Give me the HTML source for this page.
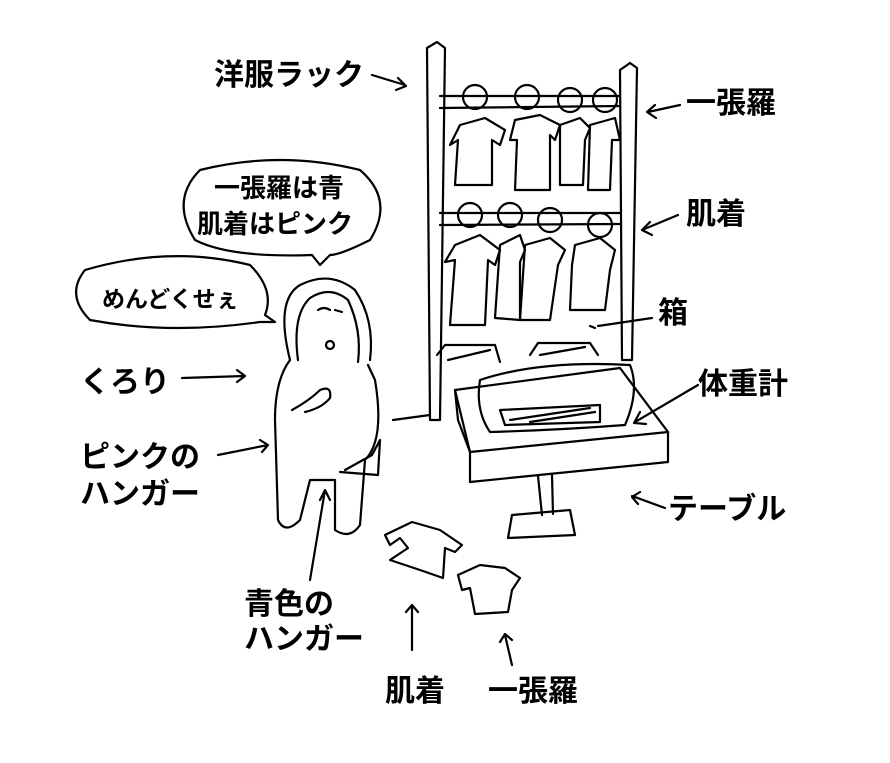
<!DOCTYPE html>
<html><head><meta charset="utf-8"><style>
html,body{margin:0;padding:0;background:#fff;}
svg{display:block}
text{font-family:"Liberation Sans","Noto Sans CJK JP",sans-serif;font-weight:bold;fill:#000;}
</style></head><body>
<svg width="890" height="763" viewBox="0 0 890 763" xmlns="http://www.w3.org/2000/svg">
<g fill="none" stroke="#000" stroke-width="2.2" stroke-linecap="round" stroke-linejoin="round">
<path d="M427 48 L437 42 L445 48 L440 420 L430 420 Z"/>
<path d="M620 70 L630 63 L637 68 L632 360 L622 360 Z"/>
<path d="M440 96 L620 96 M440 108 L620 106"/>
<path d="M440 213 L620 213 M440 225 L620 224"/>
<circle cx="475" cy="97" r="12"/><circle cx="527" cy="97" r="12"/><circle cx="570" cy="100" r="12"/><circle cx="605" cy="100" r="12"/>
<circle cx="470" cy="215" r="12"/><circle cx="510" cy="215" r="12"/><circle cx="550" cy="220" r="12"/><circle cx="600" cy="225" r="12"/>
<path d="M460 125 L485 118 L505 130 L500 145 L492 140 L492 185 L455 185 L458 140 L450 145 Z"/>
<path d="M515 120 L540 115 L560 125 L555 140 L550 135 L550 190 L515 190 L517 140 L510 140 Z"/>
<path d="M560 125 L580 118 L590 128 L585 140 L583 185 L560 185 Z"/>
<path d="M590 125 L615 118 L620 140 L612 140 L610 190 L588 190 Z"/>
<path d="M455 245 L480 235 L500 250 L495 265 L488 260 L485 325 L450 325 L455 260 L445 262 Z"/>
<path d="M500 245 L520 235 L525 250 L520 262 L520 320 L495 318 Z"/>
<path d="M525 245 L550 238 L565 250 L558 265 L550 320 L520 320 Z"/>
<path d="M575 245 L600 238 L615 250 L610 270 L605 310 L570 310 L572 265 Z"/>
<path d="M437 355 L445 345 L495 345 L500 362"/>
<path d="M530 355 L538 343 L590 343 L598 355"/>
<path d="M448 360 L490 350 M540 355 L585 347"/>
<path d="M455 390 L620 368 L668 432 L470 452 Z"/>
<path d="M470 452 L470 482 L668 462 L668 432"/>
<path d="M455 390 L458 420 L470 452"/>
<path d="M480 380 Q540 360 630 365 Q640 390 625 425 Q560 430 490 432 Q475 410 480 380 Z"/>
<path d="M500 410 L600 405 L600 422 L505 425 Z"/>
<path d="M510 420 L590 408 M530 422 L595 412"/>
<path d="M538 476 L542 515 M552 475 L553 514"/>
<path d="M512 515 L570 510 L575 535 L508 538 Z"/>
<path d="M393 420 L430 415"/>
<path d="M290 360 Q275 300 300 285 Q330 270 355 290 Q375 320 370 360"/>
<path d="M298 360 Q292 315 310 298 Q330 285 348 300 Q362 330 358 362"/>
<path d="M290 360 Q275 380 275 420 L278 520 Q285 535 300 520 L310 480 L335 480 L335 530 Q350 540 360 525 L365 460 Q385 440 375 380 L368 365"/>
<path d="M318 310 Q324 306 330 310 M335 310 L342 312"/>
<circle cx="330" cy="345" r="4"/>
<path d="M292 410 Q310 400 320 390 Q332 385 330 398 Q322 408 305 412"/>
<path d="M345 470 L372 455 L380 440 L378 475 L340 472"/>
<path d="M385 535 L412 522 L440 530 L462 545 L455 552 L445 548 L443 578 L420 570 L390 560 L408 548 L400 538 L390 545 Z"/>
<path d="M458 575 L480 565 L505 568 L520 578 L512 590 L508 612 L475 614 L470 588 L462 590 Z"/>
<path d="M200 170 Q280 150 360 170 Q395 200 370 240 Q340 255 330 255 L320 265 L312 255 Q230 258 195 240 Q170 200 200 170 Z"/>
<path d="M85 270 Q170 245 250 265 Q275 290 265 315 L275 322 L260 322 Q170 335 90 320 Q65 295 85 270 Z"/>
<path d="M372 75 L405 85 M398 78 L406 86 L396 90"/>
<path d="M680 105 L648 112 M655 105 L647 112 L656 118"/>
<path d="M678 215 L642 230 M650 222 L642 230 L652 235"/>
<path d="M652 318 L598 326 M590 326 L595 328"/>
<path d="M698 385 L635 422 M640 412 L634 423 L646 424"/>
<path d="M182 378 L245 376 M237 370 L245 376 L237 382"/>
<path d="M218 455 L268 445 M260 440 L268 445 L262 452"/>
<path d="M665 508 L632 496 M640 492 L632 497 L638 504"/>
<path d="M310 580 L325 490 M320 500 L325 490 L330 500"/>
<path d="M412 650 L412 605 M406 612 L412 605 L418 612"/>
<path d="M512 665 L505 635 M500 642 L505 634 L512 640"/>
</g>
<g font-size="30">
<text x="214" y="85">洋服ラック</text>
<text x="686" y="113">一張羅</text>
<text x="686" y="224">肌着</text>
<text x="658" y="323">箱</text>
<text x="698" y="394">体重計</text>
<text x="80" y="392">くろり</text>
<text x="80" y="467">ピンクの</text>
<text x="80" y="504">ハンガー</text>
<text x="668" y="519">テーブル</text>
<text x="244" y="614">青色の</text>
<text x="244" y="649">ハンガー</text>
<text x="385" y="701">肌着</text>
<text x="488" y="701">一張羅</text>
</g>
<g font-size="26">
<text x="214" y="197">一張羅は青</text>
<text x="197" y="233">肌着はピンク</text>
<text x="102" y="307" font-size="23">めんどくせぇ</text>
</g>
</svg>
</body></html>
